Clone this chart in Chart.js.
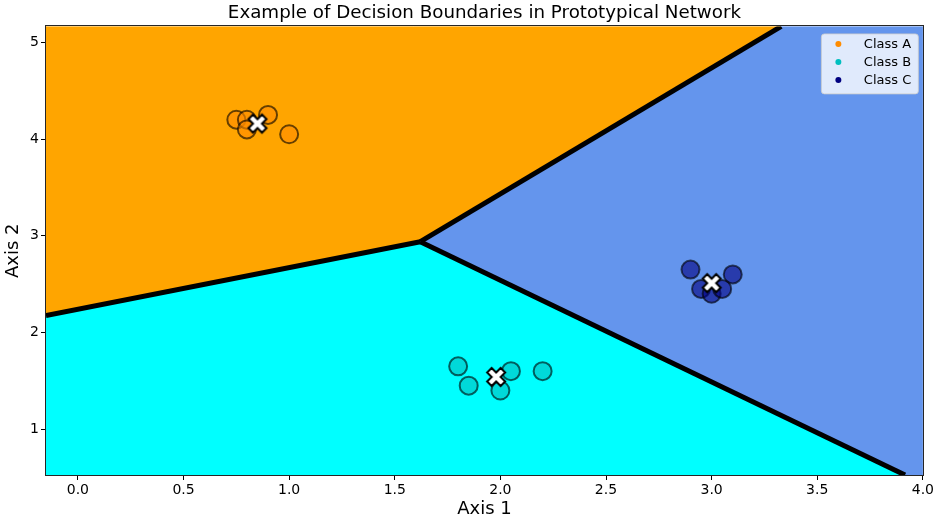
<!DOCTYPE html>
<html>
<head>
<meta charset="utf-8">
<script src="https://cdn.jsdelivr.net/npm/chart.js@4/dist/chart.umd.min.js"></script>
<style>
  html, body { margin: 0; padding: 0; background: #ffffff; }
  #wrap { width: 936px; height: 521px; }
</style>
</head>
<body>
<div id="wrap"><canvas id="chart" width="936" height="521"></canvas></div>
<script>
// Class names and colours
const classNames = ['Class A', 'Class B', 'Class C'];
const regionColors = ['#FFA500', '#00FFFF', '#6495ED'];
const pointColors = ['rgba(255,140,0,0.6)', 'rgba(0,191,191,0.6)', 'rgba(0,0,128,0.6)'];
const legendColors = ['#FF8C00', '#00BFBF', '#000080'];

// Support samples for each class
const classAX = [0.75, 0.80, 0.80, 0.90, 1.00];
const classAY = [4.20, 4.20, 4.10, 4.25, 4.05];
const classBX = [1.80, 1.85, 2.00, 2.05, 2.20];
const classBY = [1.65, 1.45, 1.40, 1.60, 1.60];
const classCX = [2.90, 2.95, 3.00, 3.05, 3.10];
const classCY = [2.65, 2.45, 2.40, 2.45, 2.60];

// Class prototypes (A, B, C)
const protoX = [0.85, 1.98, 3.00];
const protoY = [4.16, 1.54, 2.51];

// Axis ranges and ticks
const xRange = [-0.151, 4.0];
const yRange = [0.526, 5.165];
const xTicks = [0.0, 0.5, 1.0, 1.5, 2.0, 2.5, 3.0, 3.5, 4.0];
const yTicks = [1, 2, 3, 4, 5];

const FONT = "'DejaVu Sans', 'Liberation Sans', sans-serif";

function toPoints(xs, ys) { return xs.map((x, i) => ({ x: x, y: ys[i] })); }

// Clip a polygon against the half-plane a*x + b*y <= c
function clipHalfPlane(poly, a, b, c) {
  const out = [];
  for (let i = 0; i < poly.length; i++) {
    const p = poly[i], q = poly[(i + 1) % poly.length];
    const fp = a * p.x + b * p.y - c, fq = a * q.x + b * q.y - c;
    if (fp <= 0) out.push(p);
    if ((fp < 0 && fq > 0) || (fp > 0 && fq < 0)) {
      const t = fp / (fp - fq);
      out.push({ x: p.x + t * (q.x - p.x), y: p.y + t * (q.y - p.y) });
    }
  }
  return out;
}

// Nearest-prototype region of each class inside the axis box
function regionPolygon(i) {
  let poly = [
    { x: xRange[0], y: yRange[0] }, { x: xRange[1], y: yRange[0] },
    { x: xRange[1], y: yRange[1] }, { x: xRange[0], y: yRange[1] }
  ];
  for (let j = 0; j < protoX.length; j++) {
    if (j === i) continue;
    const a = protoX[j] - protoX[i], b = protoY[j] - protoY[i];
    const c = (protoX[j] ** 2 + protoY[j] ** 2 - protoX[i] ** 2 - protoY[i] ** 2) / 2;
    poly = clipHalfPlane(poly, a, b, c);
  }
  return poly;
}

// Point equidistant from all three prototypes
function tripleJunction() {
  const [x1, x2, x3] = protoX, [y1, y2, y3] = protoY;
  const d = 2 * (x1 * (y2 - y3) + x2 * (y3 - y1) + x3 * (y1 - y2));
  const s1 = x1 * x1 + y1 * y1, s2 = x2 * x2 + y2 * y2, s3 = x3 * x3 + y3 * y3;
  return {
    x: (s1 * (y2 - y3) + s2 * (y3 - y1) + s3 * (y1 - y2)) / d,
    y: (s1 * (x3 - x2) + s2 * (x1 - x3) + s3 * (x2 - x1)) / d
  };
}

// Boundary between classes i and j: ray from the junction away from the third prototype
function boundarySegment(i, j) {
  const k = 3 - i - j;
  const o = tripleJunction();
  let dx = -(protoY[j] - protoY[i]), dy = protoX[j] - protoX[i];
  if (dx * (protoX[k] - o.x) + dy * (protoY[k] - o.y) > 0) { dx = -dx; dy = -dy; }
  let t = Infinity;
  if (dx > 0) t = Math.min(t, (xRange[1] - o.x) / dx);
  if (dx < 0) t = Math.min(t, (xRange[0] - o.x) / dx);
  if (dy > 0) t = Math.min(t, (yRange[1] - o.y) / dy);
  if (dy < 0) t = Math.min(t, (yRange[0] - o.y) / dy);
  return [o, { x: o.x + t * dx, y: o.y + t * dy }];
}

// Filled white "X" marker with black outline
function makeXMarker(size) {
  const pad = 3;
  const c = document.createElement('canvas');
  c.width = c.height = size + pad * 2;
  const ctx = c.getContext('2d');
  const u = size / 4, m = c.width / 2;
  const verts = [[-1, -2], [0, -1], [1, -2], [2, -1], [1, 0], [2, 1],
                 [1, 2], [0, 1], [-1, 2], [-2, 1], [-1, 0], [-2, -1]];
  ctx.beginPath();
  verts.forEach(([vx, vy], idx) => {
    const px = m + vx * u, py = m + vy * u;
    if (idx === 0) ctx.moveTo(px, py); else ctx.lineTo(px, py);
  });
  ctx.closePath();
  ctx.fillStyle = '#ffffff';
  ctx.fill();
  ctx.lineWidth = 2;
  ctx.lineJoin = 'miter';
  ctx.strokeStyle = '#000000';
  ctx.stroke();
  return c;
}

// Decision regions painted beneath the datasets, frame drawn above them
const regionsPlugin = {
  id: 'regions',
  beforeDatasetsDraw(chart) {
    const { ctx, chartArea, scales } = chart;
    ctx.save();
    ctx.beginPath();
    ctx.rect(chartArea.left, chartArea.top, chartArea.right - chartArea.left, chartArea.bottom - chartArea.top);
    ctx.clip();
    for (let i = 0; i < protoX.length; i++) {
      const poly = regionPolygon(i);
      if (poly.length < 3) continue;
      ctx.beginPath();
      poly.forEach((p, idx) => {
        const px = scales.x.getPixelForValue(p.x), py = scales.y.getPixelForValue(p.y);
        if (idx === 0) ctx.moveTo(px, py); else ctx.lineTo(px, py);
      });
      ctx.closePath();
      ctx.fillStyle = regionColors[i];
      ctx.fill();
      ctx.strokeStyle = regionColors[i];
      ctx.lineWidth = 1;
      ctx.stroke();
    }
    ctx.restore();
  },
  afterDatasetsDraw(chart) {
    const { ctx, chartArea } = chart;
    ctx.save();
    ctx.strokeStyle = '#262626';
    ctx.lineWidth = 1;
    ctx.strokeRect(Math.round(chartArea.left) - 0.5, Math.round(chartArea.top) - 0.5,
      Math.round(chartArea.right - chartArea.left) + 1, Math.round(chartArea.bottom - chartArea.top) + 1);
    ctx.restore();
  }
};

// Legend box in the upper right corner of the plot
const legendPlugin = {
  id: 'cornerLegend',
  afterDraw(chart) {
    const { ctx, chartArea } = chart;
    const w = 97, h = 60;
    const x0 = chartArea.right - 5 - w, y0 = chartArea.top + 7;
    ctx.save();
    ctx.beginPath();
    ctx.roundRect(x0 + 0.5, y0 + 0.5, w, h, 3);
    ctx.fillStyle = 'rgba(255,255,255,0.8)';
    ctx.fill();
    ctx.strokeStyle = 'rgba(204,204,204,0.8)';
    ctx.lineWidth = 1;
    ctx.stroke();
    ctx.font = '13px ' + FONT;
    ctx.textBaseline = 'middle';
    ctx.textAlign = 'left';
    classNames.forEach((name, i) => {
      const cy = y0 + 10.5 + i * 18;
      ctx.beginPath();
      ctx.arc(x0 + 17.5, cy, 3, 0, Math.PI * 2);
      ctx.fillStyle = legendColors[i];
      ctx.fill();
      ctx.fillStyle = '#000000';
      ctx.fillText(name, x0 + 43, cy + 0.5);
    });
    ctx.restore();
  }
};

const xMarker = makeXMarker(18);

const sampleSets = [toPoints(classAX, classAY), toPoints(classBX, classBY), toPoints(classCX, classCY)];
const datasets = [];

// Boundary lines
[[0, 1], [0, 2], [1, 2]].forEach(([i, j]) => {
  datasets.push({
    label: 'boundary ' + classNames[i] + ' / ' + classNames[j],
    data: boundarySegment(i, j),
    showLine: true,
    borderColor: '#000000',
    borderWidth: 5,
    borderCapStyle: 'butt',
    pointRadius: 0,
    pointHoverRadius: 0,
    clip: 0,
    order: 2
  });
});

// Support samples
sampleSets.forEach((pts, i) => {
  datasets.push({
    label: classNames[i],
    data: pts,
    pointRadius: 9,
    pointHoverRadius: 9,
    pointBackgroundColor: pointColors[i],
    pointBorderColor: 'rgba(0,0,0,0.6)',
    pointBorderWidth: 2,
    pointHoverBorderWidth: 2,
    showLine: false,
    order: 1
  });
});

// Prototypes
datasets.push({
  label: 'Prototypes',
  data: toPoints(protoX, protoY),
  pointStyle: xMarker,
  pointRadius: 12,
  showLine: false,
  order: 0
});

new Chart(document.getElementById('chart'), {
  type: 'scatter',
  data: { datasets: datasets },
  plugins: [regionsPlugin, legendPlugin],
  options: {
    responsive: false,
    animation: false,
    devicePixelRatio: 1,
    events: [],
    layout: { padding: { left: 0, right: 0, top: 0, bottom: 0 } },
    plugins: {
      legend: { display: false },
      tooltip: { enabled: false },
      title: {
        display: true,
        fullSize: false,
        text: 'Example of Decision Boundaries in Prototypical Network',
        color: '#000000',
        font: { family: FONT, size: 18.25, weight: 'normal' },
        padding: { top: 2.5, bottom: 2 }
      }
    },
    scales: {
      x: {
        type: 'linear',
        min: xRange[0],
        max: xRange[1],
        afterBuildTicks(scale) { scale.ticks = xTicks.map(v => ({ value: v })); },
        afterFit(scale) { scale.height = 46; },
        ticks: {
          color: '#000000',
          font: { family: FONT, size: 14 },
          padding: 2,
          maxRotation: 0,
          callback: v => v.toFixed(1)
        },
        grid: { drawOnChartArea: false, drawTicks: true, tickLength: 5, tickColor: '#000000', tickWidth: 1 },
        border: { display: false },
        title: {
          display: true,
          text: 'Axis 1',
          color: '#000000',
          font: { family: FONT, size: 18 },
          padding: { top: 0, bottom: 1 }
        }
      },
      y: {
        type: 'linear',
        min: yRange[0],
        max: yRange[1],
        afterBuildTicks(scale) { scale.ticks = yTicks.map(v => ({ value: v })); },
        afterFit(scale) { scale.width = 46; },
        ticks: {
          color: '#000000',
          font: { family: FONT, size: 14 },
          padding: 2,
          callback: v => String(v)
        },
        grid: { drawOnChartArea: false, drawTicks: true, tickLength: 5, tickColor: '#000000', tickWidth: 1 },
        border: { display: false },
        title: {
          display: true,
          text: 'Axis 2',
          color: '#000000',
          font: { family: FONT, size: 18 },
          padding: { top: 3, bottom: 0 }
        }
      }
    }
  }
});
</script>
</body>
</html>
